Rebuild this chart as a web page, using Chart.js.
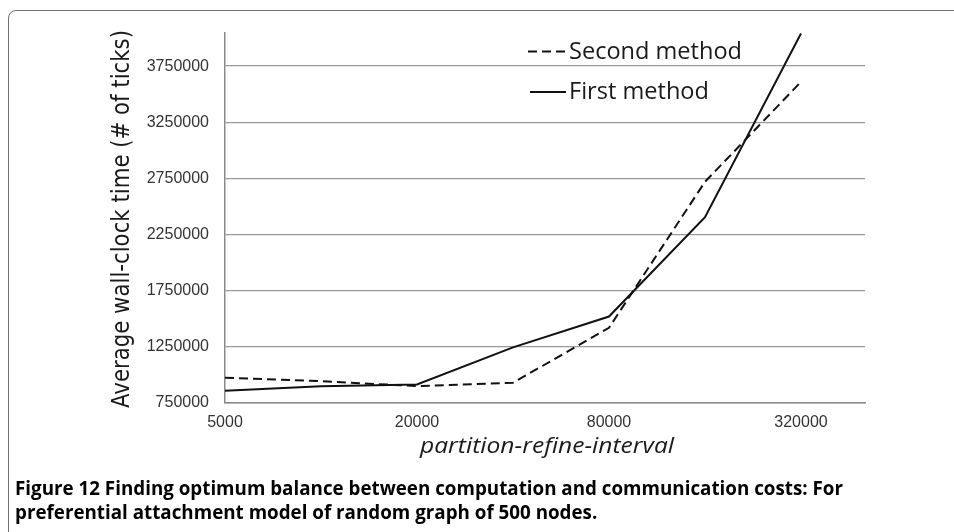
<!DOCTYPE html>
<html>
<head>
<meta charset="utf-8">
<script src="https://cdn.jsdelivr.net/npm/chart.js@4.4.1/dist/chart.umd.min.js"></script>
<style>
  html, body { margin: 0; padding: 0; background: #fff; overflow: hidden; }
  #frame {
    position: absolute; left: 8px; top: 10px; width: 1100px; height: 700px;
    border: 1.5px solid #6f6f6f; border-radius: 8px; box-sizing: border-box;
  }
  #chart { position: absolute; left: 0; top: 0; }
</style>
</head>
<body>
<div id="frame"></div>
<canvas id="chart" width="954" height="532"></canvas>
<script>
  // partition-refine-interval values and average wall-clock ticks
  const intervals = [5000, 10000, 20000, 40000, 80000, 160000, 320000];
  const firstMethod = [860000, 900000, 915000, 1245000, 1520000, 2405000, 4040000];
  const secondMethod = [975000, 945000, 900000, 930000, 1420000, 2720000, 3610000];
  const xTicks = [5000, 20000, 80000, 320000];
  const yTicks = [750000, 1250000, 1750000, 2250000, 2750000, 3250000, 3750000];

  const yTitle = 'Average wall-clock time (# of ticks)';
  const xTitle = 'partition-refine-interval';
  const caption = [
    'Figure 12 Finding optimum balance between computation and communication costs: For',
    'preferential attachment model of random graph of 500 nodes.'
  ];

  const toPoints = vals => intervals.map((x, i) => ({ x, y: vals[i] }));

  // squeeze a string horizontally so it spans a given width
  function fitScale(ctx, text, font, width) {
    ctx.font = font;
    return width / ctx.measureText(text).width;
  }
  function drawScaled(ctx, text, x, y, font, sx) {
    ctx.save();
    ctx.font = font;
    ctx.translate(x, y);
    ctx.scale(sx, 1);
    ctx.fillText(text, 0, 0);
    ctx.restore();
  }

  const figureText = {
    id: 'figureText',
    afterDraw(chart) {
      const ctx = chart.ctx;
      ctx.save();
      ctx.textBaseline = 'alphabetic';
      ctx.textAlign = 'left';

      // legend inside the plot, second method on top
      const legendFont = '23px "Open Sans"';
      const items = [chart.data.datasets[1], chart.data.datasets[0]];
      const sx = fitScale(ctx, items[0].label, legendFont, 173);
      items.forEach((ds, i) => {
        const y = 51.5 + i * 40.5;
        ctx.strokeStyle = '#111';
        ctx.lineWidth = 2;
        ctx.setLineDash(ds.borderDash || []);
        ctx.beginPath();
        ctx.moveTo(ds.borderDash ? 528 : 530, y);
        ctx.lineTo(566, y);
        ctx.stroke();
        ctx.setLineDash([]);
        ctx.fillStyle = '#1a1a1a';
        drawScaled(ctx, ds.label, 569, y + 7, legendFont, sx);
      });

      // y axis title, rotated
      ctx.fillStyle = '#1a1a1a';
      const yFont = '24px "DejaVu Sans"';
      const ys = fitScale(ctx, yTitle, yFont, 378);
      ctx.save();
      ctx.translate(129, 408);
      ctx.rotate(-Math.PI / 2);
      drawScaled(ctx, yTitle, 0, 0, yFont, ys);
      ctx.restore();

      // x axis title
      const xFont = 'italic 21px "Open Sans"';
      drawScaled(ctx, xTitle, 420, 453, xFont, fitScale(ctx, xTitle, xFont, 254));

      // caption below the chart
      ctx.fillStyle = '#000';
      const capFont = 'bold 19px "Open Sans"';
      const cs = fitScale(ctx, caption[0], capFont, 828);
      drawScaled(ctx, caption[0], 15, 495, capFont, cs);
      drawScaled(ctx, caption[1], 15, 519, capFont, cs);
      ctx.restore();
    }
  };

  new Chart(document.getElementById('chart'), {
    type: 'line',
    data: {
      datasets: [
        {
          label: 'First method',
          data: toPoints(firstMethod),
          borderColor: '#111',
          borderWidth: 2,
          pointRadius: 0,
          tension: 0
        },
        {
          label: 'Second method',
          data: toPoints(secondMethod),
          borderColor: '#111',
          borderWidth: 2,
          borderDash: [9, 5],
          pointRadius: 0,
          tension: 0
        }
      ]
    },
    options: {
      responsive: false,
      animation: false,
      layout: { padding: { top: 33, right: 89, left: 0, bottom: 0 } },
      plugins: { legend: { display: false }, tooltip: { enabled: false } },
      scales: {
        x: {
          type: 'logarithmic',
          min: 5000,
          max: 508000,
          afterBuildTicks: s => { s.ticks = xTicks.map(v => ({ value: v })); },
          afterFit: s => { s.height = 129; },
          grid: { display: false, drawTicks: false },
          border: { color: '#8a8a8a', width: 1.5 },
          ticks: {
            callback: v => String(v),
            color: '#333',
            font: { family: '"Liberation Sans"', size: 16 },
            padding: 10,
            maxRotation: 0,
            autoSkip: false
          }
        },
        y: {
          min: 750000,
          max: 4045000,
          afterBuildTicks: s => { s.ticks = yTicks.map(v => ({ value: v })); },
          afterFit: s => { s.width = 225; },
          grid: { color: '#9a9a9a', lineWidth: 1.3, drawTicks: false },
          border: { color: '#8a8a8a', width: 1.5 },
          ticks: {
            callback: v => String(v),
            color: '#333',
            font: { family: '"Liberation Sans"', size: 16 },
            padding: 16
          }
        }
      }
    },
    plugins: [figureText]
  });
</script>
</body>
</html>
